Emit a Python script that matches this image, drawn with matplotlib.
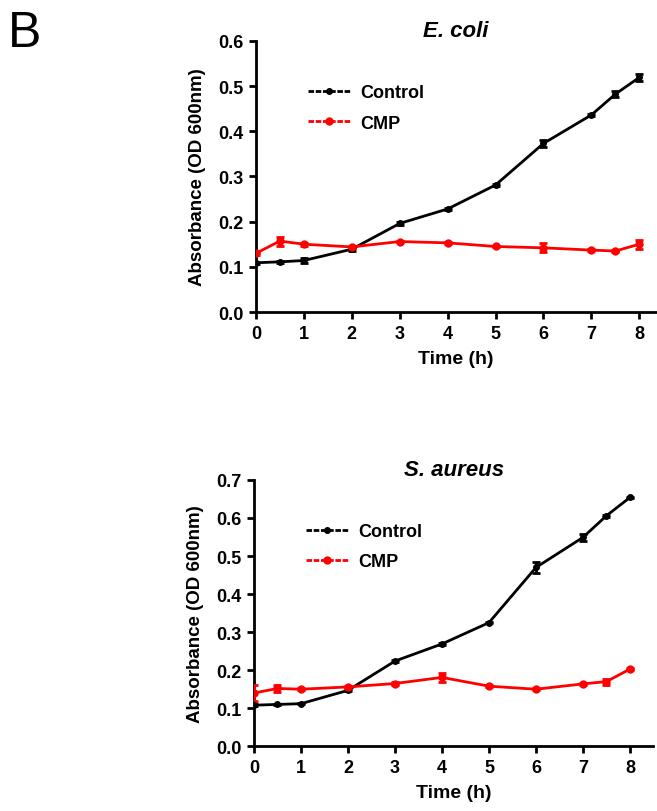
import numpy as np
import matplotlib
matplotlib.use("Agg")
import matplotlib.pyplot as plt
from matplotlib.lines import Line2D

plt.rcParams['font.family'] = ['Liberation Sans', 'DejaVu Sans']

# DATA
time_h = [0, 0.5, 1, 2, 3, 4, 5, 6, 7, 7.5, 8]

ecoli_control = [0.109, 0.111, 0.114, 0.139, 0.196, 0.228, 0.281, 0.373, 0.436, 0.482, 0.519]
ecoli_control_err = [0.002, 0.002, 0.006, 0.003, 0.003, 0.002, 0.002, 0.008, 0.002, 0.006, 0.008]
ecoli_cmp = [0.130, 0.157, 0.150, 0.144, 0.156, 0.153, 0.145, 0.142, 0.137, 0.135, 0.150]
ecoli_cmp_err = [0.003, 0.010, 0.003, 0.002, 0.002, 0.002, 0.002, 0.010, 0.003, 0.003, 0.010]

saureus_control = [0.108, 0.110, 0.112, 0.147, 0.224, 0.269, 0.325, 0.470, 0.549, 0.606, 0.654]
saureus_control_err = [0.002, 0.002, 0.002, 0.003, 0.002, 0.002, 0.002, 0.015, 0.010, 0.003, 0.002]
saureus_cmp = [0.140, 0.152, 0.150, 0.156, 0.165, 0.181, 0.158, 0.150, 0.164, 0.170, 0.203]
saureus_cmp_err = [0.020, 0.010, 0.003, 0.003, 0.003, 0.012, 0.002, 0.002, 0.003, 0.008, 0.002]

panels = [
    ("E. coli", ecoli_control, ecoli_control_err, ecoli_cmp, ecoli_cmp_err, 0.6, [0.3896, 0.6145, 0.609, 0.334], 8.35),
    ("S. aureus", saureus_control, saureus_control_err, saureus_cmp, saureus_cmp_err, 0.7, [0.3866, 0.0797, 0.608, 0.328], 8.5),
]

fig = plt.figure(figsize=(6.57, 8.12), dpi=100)

for title, ctrl, ctrl_err, cmp_, cmp_err, ymax, pos, xmax in panels:
    ax = fig.add_axes(pos)
    ax.errorbar(time_h, ctrl, yerr=ctrl_err, color='black', marker='o', markersize=4,
                linewidth=2, capsize=3, elinewidth=2, capthick=2, zorder=3)
    ax.errorbar(time_h, cmp_, yerr=cmp_err, color='red', marker='o', markersize=5,
                linewidth=2, capsize=3, elinewidth=2, capthick=2, zorder=3)

    ax.set_xlim(0, xmax)
    ax.set_ylim(0, ymax)
    ax.set_xticks(range(0, 9))
    ax.set_yticks(np.arange(0, ymax + 0.001, 0.1))
    ax.yaxis.set_major_formatter(matplotlib.ticker.FormatStrFormatter('%.1f'))
    for s in ['top', 'right']:
        ax.spines[s].set_visible(False)
    for s in ['left', 'bottom']:
        ax.spines[s].set_linewidth(2)
    ax.tick_params(direction='out', length=5, width=2, labelsize=13, pad=4)
    for lbl in ax.get_xticklabels() + ax.get_yticklabels():
        lbl.set_fontweight('bold')

    ax.set_xlabel('Time (h)', fontsize=14, fontweight='bold', labelpad=6)
    ax.set_ylabel('Absorbance (OD 600nm)', fontsize=13.5, fontweight='bold', labelpad=9)
    ax.set_title(title, fontsize=16, fontweight='bold', style='italic', pad=2)

    handles = [
        Line2D([], [], color='black', marker='o', markersize=4, linewidth=2, dashes=(2, 0.6)),
        Line2D([], [], color='red', marker='o', markersize=5, linewidth=2, dashes=(2, 0.6)),
    ]
    leg = ax.legend(handles, ['Control', 'CMP'], loc='upper left', bbox_to_anchor=(0.09, 0.90),
                    frameon=False, fontsize=13, handlelength=2.3, handletextpad=0.6,
                    labelspacing=0.75)
    for t in leg.get_texts():
        t.set_fontweight('bold')

fig.text(0.012, 0.942, 'B', fontsize=36)

fig.savefig('out.png', dpi=100)
